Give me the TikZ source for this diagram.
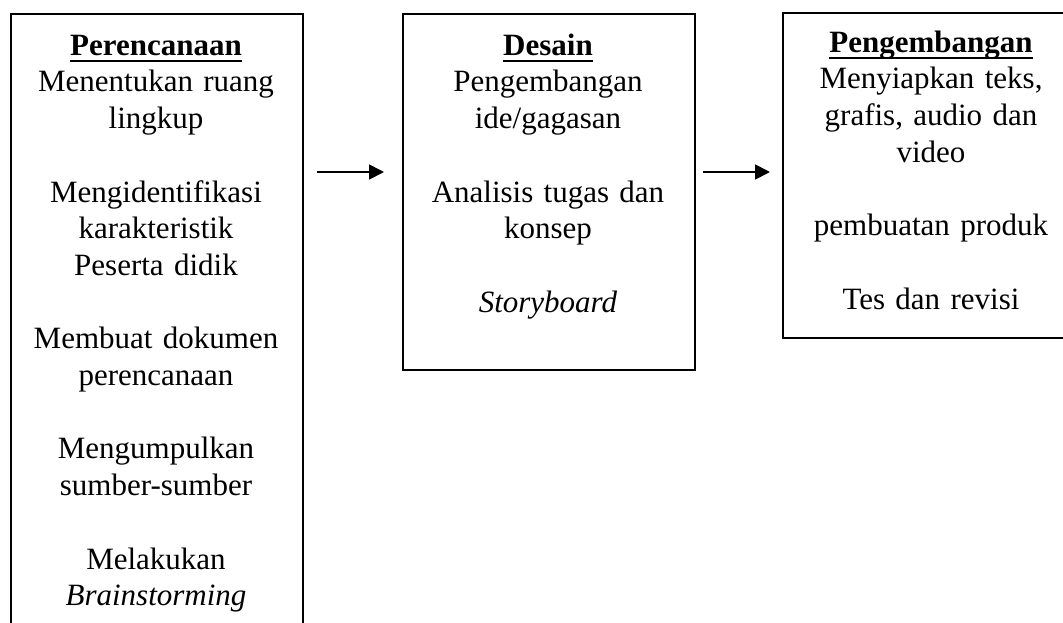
\documentclass[tikz,border=0pt]{standalone}
\usepackage{fontspec}
\setmainfont{Liberation Serif}[Ligatures=CommonOff]
\usetikzlibrary{arrows.meta}
\newcommand{\myul}[1]{\setbox0\hbox{#1}\rlap{\rule[-7pt]{\wd0}{2.7pt}}\box0}
\tikzset{
  boxframe/.style={draw, line width=2.2pt, rectangle, anchor=north west, inner sep=0pt},
  boxtext/.style={anchor=north, inner sep=0pt, text width=285pt, align=center,
    font=\fontsize{31}{36.7}\selectfont},
  flowarrow/.style={line width=1.8pt, -{Triangle[length=15pt,width=15pt]}}
}
\newcommand{\firststrut}{\rule{0pt}{25pt}}
\begin{document}
\begin{tikzpicture}[x=1pt,y=-1pt]
\useasboundingbox (0,0) rectangle (1063,622);
% boxes
\node[boxframe, minimum width=292pt, minimum height=630pt] (plan) at (10,13) {};
\node[boxframe, minimum width=292pt, minimum height=356pt] (desain) at (402,13) {};
\node[boxframe, minimum width=298pt, minimum height=325pt] (pengem) at (782,12) {};
% texts
\node[boxtext] (tplan) at (156,30) {\firststrut\myul{\textbf{Perencanaan}}\\
Menentukan ruang\\ lingkup\\[36.7pt]
Mengidentifikasi\\ karakteristik\\ Peserta didik\\[36.7pt]
Membuat dokumen\\ perencanaan\\[36.7pt]
Mengumpulkan\\ sumber-sumber\\[36.7pt]
Melakukan\\ \textit{Brainstorming}};
\node[boxtext] (tdesain) at (548,30) {\firststrut\myul{\textbf{Desain}}\\
Pengembangan\\ ide/gagasan\\[36.7pt]
Analisis tugas dan\\ konsep\\[36.7pt]
\textit{Storyboard}};
\node[boxtext] (tpengem) at (931,27) {\firststrut\myul{\textbf{Pengembangan}}\\
Menyiapkan teks,\\ grafis, audio dan\\ video\\[36.7pt]
pembuatan produk\\[36.7pt]
Tes dan revisi};
% arrows
\coordinate (a1s) at (317,172);
\coordinate (a1e) at (384,172);
\coordinate (a2s) at (703,172);
\coordinate (a2e) at (770,172);
\draw[flowarrow] (a1s) -- (a1e);
\draw[flowarrow] (a2s) -- (a2e);
\end{tikzpicture}
\end{document}
